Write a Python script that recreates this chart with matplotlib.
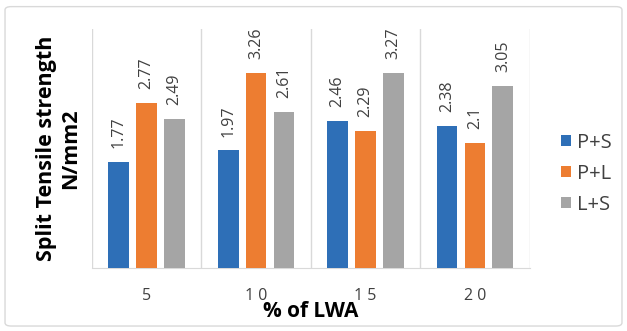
import matplotlib
matplotlib.use("Agg")
import matplotlib.pyplot as plt
import numpy as np
from matplotlib.patches import FancyBboxPatch

categories = ["5", "10", "15", "20"]
tick_labels = ["5", "1 0", "1 5", "2 0"]
series_names = ["P+S", "P+L", "L+S"]
p_s = [1.77, 1.97, 2.46, 2.38]
p_l = [2.77, 3.26, 2.29, 2.10]
l_s = [2.49, 2.61, 3.27, 3.05]
value_labels = [["1.77", "1.97", "2.46", "2.38"],
                ["2.77", "3.26", "2.29", "2.1"],
                ["2.49", "2.61", "3.27", "3.05"]]
colors = ["#2E6FB7", "#ED7D31", "#A5A5A5"]

plt.rcParams["font.family"] = ["Open Sans", "DejaVu Sans"]

fig = plt.figure(figsize=(6.27, 3.31), dpi=100)
fig.patches.append(FancyBboxPatch((0.008, 0.015), 0.984, 0.965,
                                  boxstyle="round,pad=0,rounding_size=0.01",
                                  transform=fig.transFigure, facecolor="white",
                                  edgecolor="#D9D9D9", linewidth=1.0, zorder=-1))
ax = fig.add_axes([0.1467, 0.190, 0.698, 0.722])

x = np.arange(len(categories))
width = 0.19
step = 0.255
for i, (vals, name) in enumerate(zip([p_s, p_l, l_s], series_names)):
    pos = x + (i - 1) * step
    bars = ax.bar(pos, vals, width=width, color=colors[i], label=name, zorder=3)
    for b, v, txt in zip(bars, vals, value_labels[i]):
        ax.annotate(txt, (b.get_x() + b.get_width() / 2, v),
                    xytext=(0, 10), textcoords="offset points",
                    rotation=90, ha="center", va="bottom",
                    fontsize=11.5, color="#404040")

ax.set_xlim(-0.5, len(categories) - 0.5)
ax.set_ylim(0, 4)
ax.set_yticks([])
ax.set_xticks(x)
ax.set_xticklabels(tick_labels, fontsize=11.5, color="#404040")
ax.tick_params(axis="x", length=0, pad=14)
for b in np.arange(-0.5, len(categories), 1.0):
    ax.axvline(b, color="#D9D9D9", linewidth=1.0, zorder=1)
for s in ["top", "right", "left"]:
    ax.spines[s].set_visible(False)
ax.spines["bottom"].set_color("#D9D9D9")

ax.set_xlabel("% of LWA", fontsize=15, fontweight="bold", color="black", labelpad=-2)
ax.set_ylabel("Split Tensile strength\nN/mm2", fontsize=15.5, fontweight="bold",
              color="black", labelpad=8, linespacing=1.2)

leg = ax.legend(loc="center left", bbox_to_anchor=(1.03, 0.395), frameon=False,
                fontsize=14.5, handlelength=0.5, handleheight=0.5,
                labelspacing=0.55, handletextpad=0.3)
for t in leg.get_texts():
    t.set_color("#404040")

fig.savefig("out.png", dpi=100)
